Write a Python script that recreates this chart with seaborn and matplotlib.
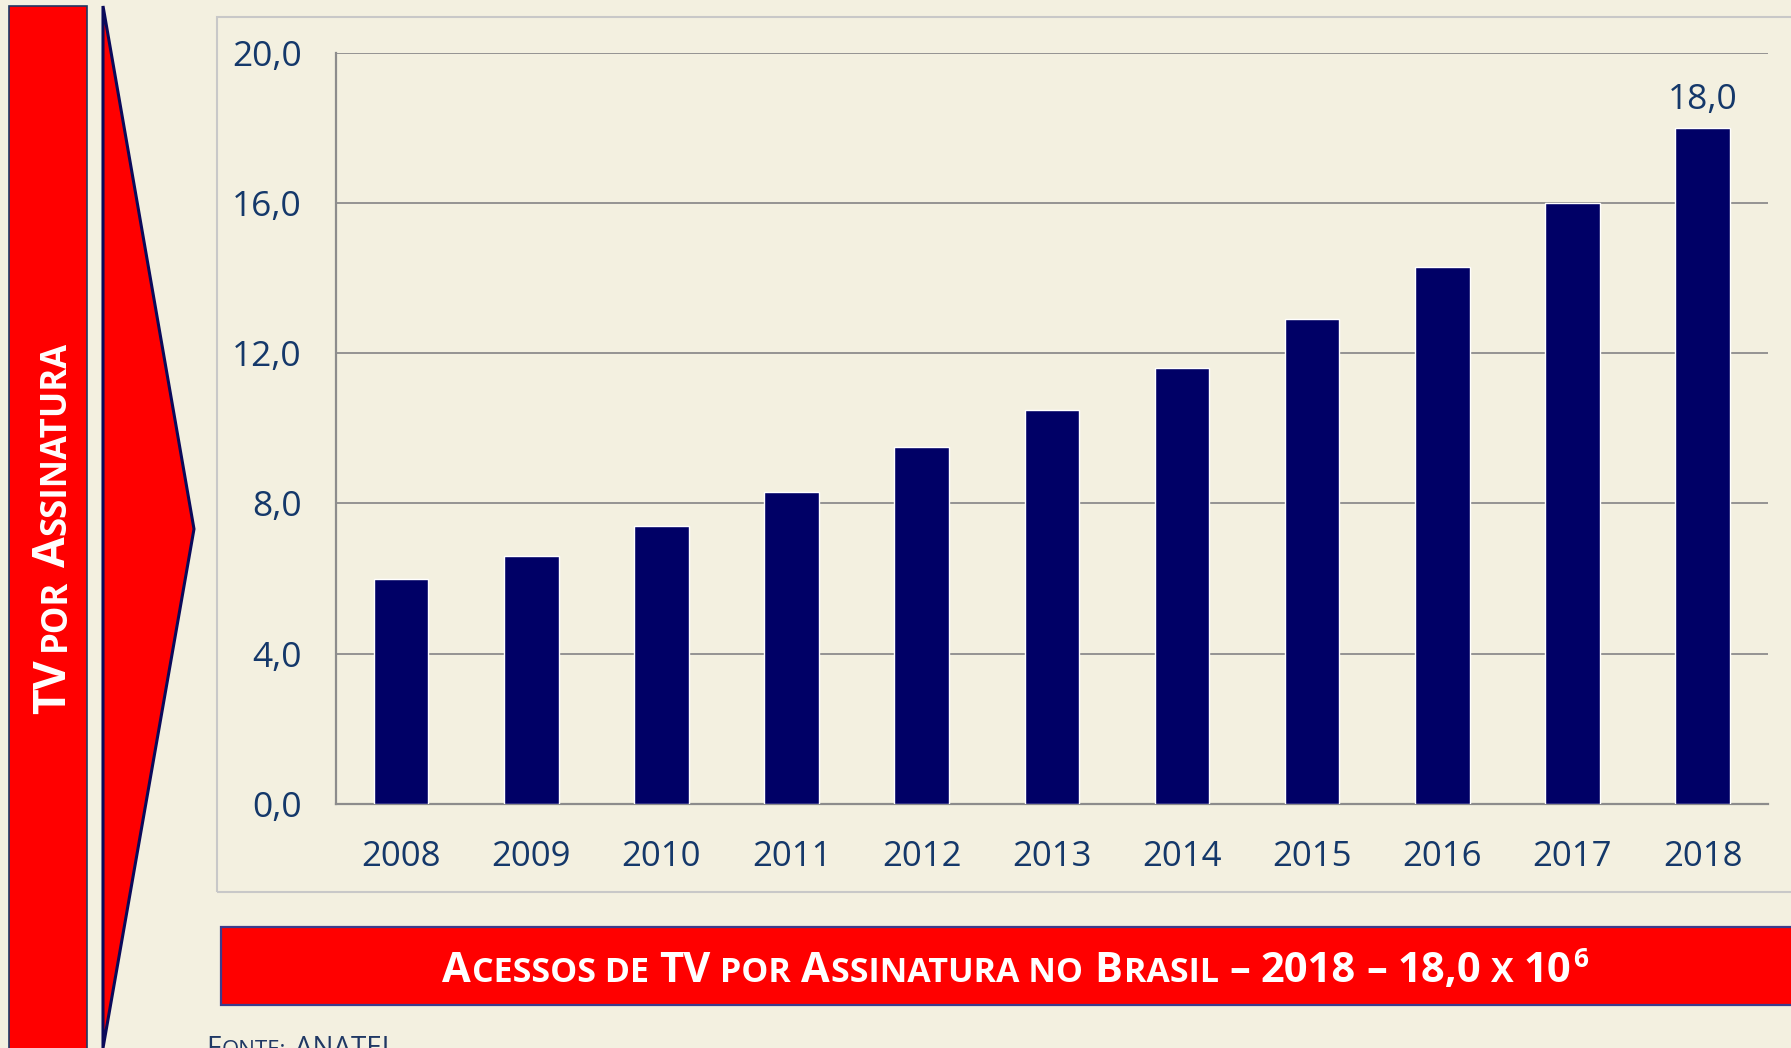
import numpy as np
import pandas as pd
import seaborn as sns
import matplotlib.pyplot as plt
from matplotlib.patches import Rectangle, Polygon
from matplotlib.transforms import IdentityTransform

# data (millions of accesses)
years = ['2008', '2009', '2010', '2011', '2012', '2013', '2014', '2015', '2016', '2017', '2018']
acessos = [6.0, 6.6, 7.4, 8.3, 9.5, 10.5, 11.6, 12.9, 14.3, 16.0, 18.0]
y_ticks = [0, 4, 8, 12, 16, 20]
labeled_years = ['2018']

BG = '#F3F0E0'
NAVY = '#000066'
TXT = '#14386A'
RED = '#FF0000'
GRID = '#8C8C8C'

W, H = 1791, 1048

sns.set_style('white')
plt.rcParams['font.family'] = ['Open Sans', 'DejaVu Sans']

fig = plt.figure(figsize=(W / 100, H / 100), dpi=100, facecolor=BG)
PX = IdentityTransform()


def box(x0, y0, x1, y1, **kw):
    # rectangle given in image pixels (top-left origin)
    r = Rectangle((x0, H - y1), x1 - x0, y1 - y0, transform=PX, **kw)
    fig.add_artist(r)
    return r


def comma(v):
    return f'{v:.1f}'.replace('.', ',')


def small_caps(pieces, x, y, rot=0, center=True, space=0.27, **kw):
    '''
    Draws a run of text pieces one after another (fake small caps).
    pieces: list of (text, size, space_before, rise)
    x, y: display pixels, baseline start (or centre of run if center)
    '''
    r = fig.canvas.get_renderer()
    arts, widths, gaps = [], [], []
    for txt, size, sp, rise in pieces:
        t = fig.text(0, 0, txt, fontsize=size, ha='left', va='baseline',
                     rotation=rot, rotation_mode='anchor', transform=PX, **kw)
        bb = t.get_window_extent(r)
        widths.append(bb.height if rot else bb.width)
        gaps.append((space * size * 100 / 72 if sp else 0) + 1.5)
        arts.append((t, rise))
    total = sum(widths) + sum(gaps) - gaps[0]
    pos = -total / 2 if center else 0
    for i, (t, rise) in enumerate(arts):
        if i > 0:
            pos += gaps[i]
        if rot:
            t.set_position((x - rise, y + pos))
        else:
            t.set_position((x + pos, y + rise))
        pos += widths[i]


# chart frame
box(216.7, 16.7, 1810, 892, fill=False, edgecolor='#C8C8C8', lw=1.5, zorder=0)

ax = fig.add_axes([336 / W, 1 - 804 / H, (1767.7 - 336) / W, (804 - 52.7) / H])
ax.set_facecolor('none')

df = pd.DataFrame({'ano': years, 'acessos': acessos})
sns.barplot(data=df, x='ano', y='acessos', color=NAVY, saturation=1,
            width=0.42, ax=ax, zorder=3)

ax.set_xlim(-0.5, len(years) - 0.5)
ax.set_ylim(0, 20)
ax.set_yticks(y_ticks)
ax.set_yticklabels([comma(v) for v in y_ticks])
ax.set_xlabel('')
ax.set_ylabel('')
ax.yaxis.grid(True, color=GRID, lw=1.3)
ax.xaxis.grid(False)
ax.set_axisbelow(True)
for s in ['top', 'right']:
    ax.spines[s].set_visible(False)
for s in ['left', 'bottom']:
    ax.spines[s].set_color(GRID)
    ax.spines[s].set_linewidth(1.6)

ax.set_xticks(list(np.arange(len(years)) - 0.5) + [len(years) - 0.5], minor=True)
ax.tick_params(axis='x', which='major', length=0, pad=26, labelsize=25, labelcolor=TXT)
ax.tick_params(axis='x', which='minor', length=8.6, width=1.3, color=GRID, direction='out')
ax.tick_params(axis='y', length=8.6, width=1.3, color=GRID, pad=16, labelsize=25.5, labelcolor=TXT)

ax.bar_label(ax.containers[0],
             labels=[comma(v) if y in labeled_years else '' for y, v in zip(years, acessos)],
             padding=8, fontsize=25.5, color=TXT)

# left banner and chevron
box(9, 6, 87, 1060, facecolor=RED, edgecolor='#1F3864', lw=1.2, zorder=1)
fig.add_artist(Polygon([(103, H - 6), (194, H - 529), (103, H - 1048)], closed=True,
                       transform=PX, facecolor=RED, edgecolor='#0A0A5A', lw=2.2, zorder=1))

BIG, SM = 32, 25
small_caps([('TV', BIG, False, 0), ('POR', SM, True, 0), ('A', BIG, True, 0),
            ('SSINATURA', SM, False, 0)],
           65, H - 528, rot=90, space=0.22, color='white', fontweight='bold', zorder=5)

# bottom banner
box(220.7, 926.7, 1810, 1005, facecolor=RED, edgecolor='#3C3C8C', lw=1.6, zorder=1)
B1, B2 = 30, 24.5
small_caps([('A', B1, False, 0), ('CESSOS DE', B2, False, 0), ('TV', B1, True, 0),
            ('POR', B2, True, 0), ('A', B1, True, 0), ('SSINATURA NO', B2, False, 0),
            ('B', B1, True, 0), ('RASIL', B2, False, 0), ('–', B1, True, 0),
            ('2018', B1, True, 0), ('–', B1, True, 0), ('18,0', B1, True, 0),
            ('X', B2, True, 0), ('10', B1, True, 0), ('6', 19, False, 15.6)],
           1014.8, H - 982.3, space=0.22, color='white', fontweight='bold', zorder=5)

# source note (cut off at the bottom edge, as in the original slide)
small_caps([('F', 20, False, 0), ('ONTE:', 16, False, 0), ('ANATEL', 20, True, 0)],
           206, H - 1056.5, center=False, color='#1F3864', zorder=5)

plt.savefig('out.png', dpi=100, facecolor=BG)
